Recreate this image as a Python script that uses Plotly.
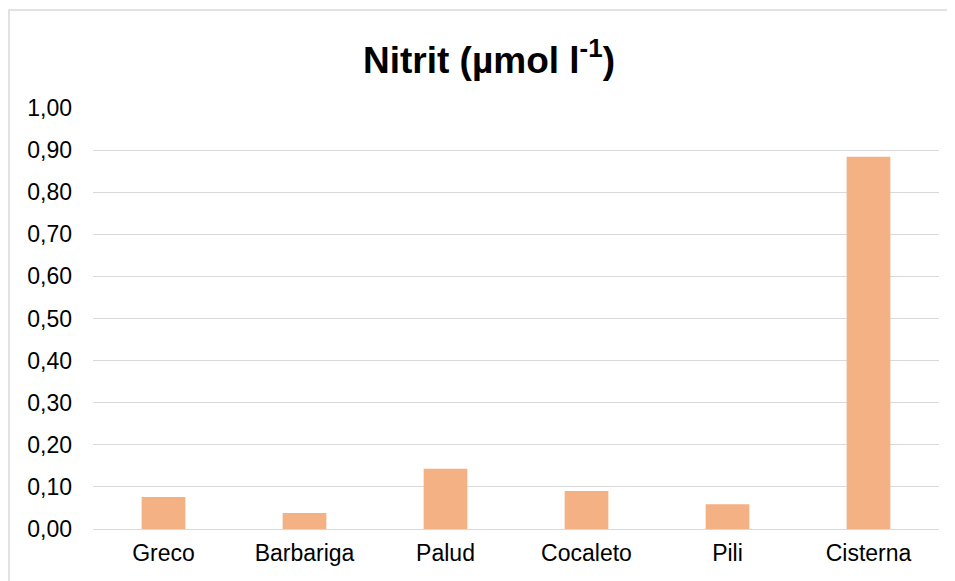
import plotly.graph_objects as go

sites = ["Greco", "Barbariga", "Palud", "Cocaleto", "Pili", "Cisterna"]
nitrit = [0.076, 0.038, 0.143, 0.090, 0.059, 0.884]
y_ticks = [0.0, 0.1, 0.2, 0.3, 0.4, 0.5, 0.6, 0.7, 0.8, 0.9, 1.0]

# page has an 8px body margin, so the figure is shrunk by that much
OFF = 8
W, H = 955 - OFF, 581 - OFF
ML, MR, MT, MB = 93 - OFF, 16, 108 - OFF, 52
pw, ph = W - ML - MR, H - MT - MB

fig = go.Figure(go.Bar(
    x=sites, y=nitrit,
    marker=dict(color="#F4B183", line=dict(width=0)),
    width=0.31,
    hoverinfo="x+y",
))

fig.update_layout(
    width=W, height=H,
    margin=dict(l=ML, r=MR, t=MT, b=MB),
    paper_bgcolor="white", plot_bgcolor="white",
    font=dict(family="Arial, Liberation Sans, sans-serif", size=23, color="#000000"),
    separators=",.",
    showlegend=False,
    title=dict(
        text="<b>Nitrit (µmol l<sup>-1</sup>)</b>",
        x=(489 - OFF) / W, xanchor="center",
        y=1 - (60 - OFF) / H, yanchor="middle",
        font=dict(size=37, color="#000000"),
    ),
    xaxis=dict(showgrid=False, showline=False, ticks="", ticklabelstandoff=8),
    yaxis=dict(
        range=[0, 1.0], tickvals=y_ticks, tickformat=".2f",
        showgrid=True, gridcolor="#D9D9D9", gridwidth=1,
        zeroline=True, zerolinecolor="#D9D9D9", zerolinewidth=1,
        showline=False, ticks="", ticklabelstandoff=20,
    ),
    shapes=[dict(
        type="rect", xref="paper", yref="paper",
        x0=(9 - OFF - ML) / pw, x1=(952 - OFF - ML) / pw,
        y0=-(MB + 10) / ph, y1=1 + (MT - 10 + OFF) / ph,
        line=dict(color="#D9D9D9", width=1.5), layer="below",
    )],
)

fig.write_html("out.html")
